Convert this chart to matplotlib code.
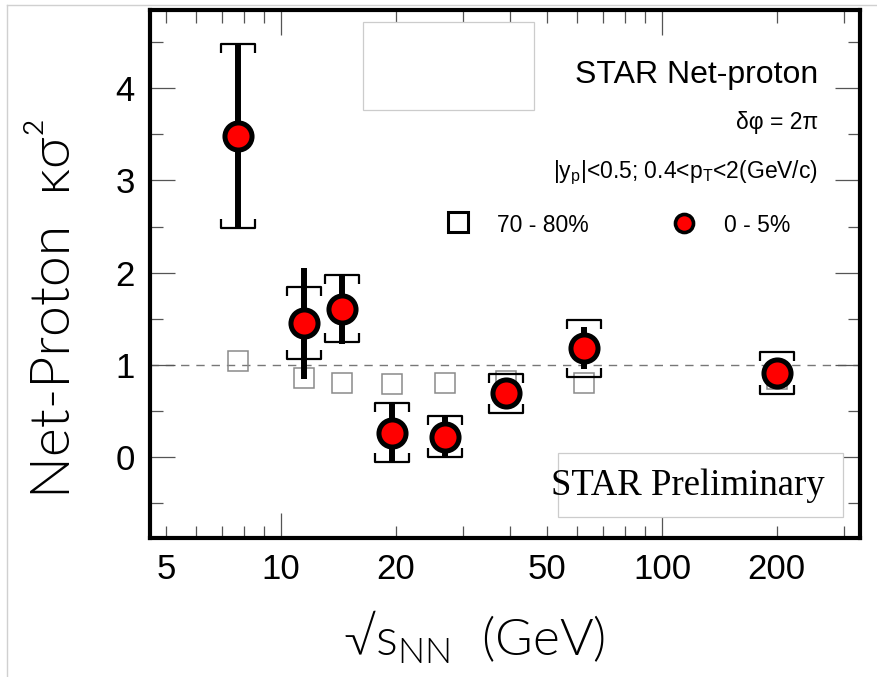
import numpy as np
import matplotlib
matplotlib.use("Agg")
import matplotlib.pyplot as plt
from matplotlib.path import Path
from matplotlib.lines import Line2D
from matplotlib.patches import Rectangle
from matplotlib.ticker import FixedLocator, FixedFormatter

energy = [7.7, 11.5, 14.5, 19.6, 27, 39, 62.4, 200]
kappa_central = [3.48, 1.45, 1.61, 0.26, 0.22, 0.69, 1.18, 0.91]
stat_central = [1.00, 0.60, 0.38, 0.32, 0.22, 0.10, 0.23, 0.10]
sys_central = [1.00, 0.39, 0.36, 0.32, 0.22, 0.21, 0.31, 0.23]
kappa_periph = [1.04, 0.86, 0.80, 0.79, 0.80, 0.82, 0.80, 0.85]

xticks_major = [10, 100]
xticks_minor = [5, 6, 7, 8, 9, 20, 30, 40, 50, 60, 70, 80, 90, 200, 300]
xlabels_minor = ['5', '', '', '', '', '20', '', '', '50', '', '', '', '', '200', '']
yticks_major = [0, 1, 2, 3, 4]
yticks_minor = [-0.5, 0.5, 1.5, 2.5, 3.5, 4.5]

W, H = 877, 677
fig = plt.figure(figsize=(W / 100, H / 100), dpi=100)


def fx(px):
    return px / W


def fy(py):
    return 1 - py / H


ax = fig.add_axes([fx(150), fy(538), fx(860) - fx(150), fy(10) - fy(538)])
ax.set_xscale('log')
ax.set_xlim(4.53, 331)
ax.set_ylim(-0.88, 4.85)

# dashed reference line at 1
ax.axhline(1, color='#777777', lw=1, dashes=(6, 5), zorder=1)

# peripheral (70-80%) open squares
ax.plot(energy, kappa_periph, linestyle='none', marker='s', ms=15,
        mfc='none', mec='#8a8a8a', mew=1.1, zorder=2)

# statistical errors
ax.errorbar(energy, kappa_central, yerr=stat_central, fmt='none',
            ecolor='black', elinewidth=4.3, capsize=0, zorder=3)

# systematic brackets
top_br = Path([(-1, -0.55), (-1, 0), (1, 0), (1, -0.55)],
              [Path.MOVETO, Path.LINETO, Path.LINETO, Path.LINETO])
bot_br = Path([(-1, 0.55), (-1, 0), (1, 0), (1, 0.55)],
              [Path.MOVETO, Path.LINETO, Path.LINETO, Path.LINETO])
kc = np.array(kappa_central)
sc = np.array(sys_central)
ax.plot(energy, kc + sc, linestyle='none', marker=top_br, ms=24,
        mfc='none', mec='black', mew=1.6, zorder=4)
ax.plot(energy, kc - sc, linestyle='none', marker=bot_br, ms=24,
        mfc='none', mec='black', mew=1.6, zorder=4)

# central (0-5%) red points
ax.plot(energy, kappa_central, linestyle='none', marker='o', ms=19.5,
        mfc='red', mec='black', mew=3.6, zorder=5)

# axes styling
for sp in ax.spines.values():
    sp.set_linewidth(3)
ax.xaxis.set_major_locator(FixedLocator(xticks_major))
ax.xaxis.set_major_formatter(FixedFormatter(['10', '100']))
ax.xaxis.set_minor_locator(FixedLocator(xticks_minor))
ax.xaxis.set_minor_formatter(FixedFormatter(xlabels_minor))
ax.yaxis.set_major_locator(FixedLocator(yticks_major))
ax.yaxis.set_minor_locator(FixedLocator(yticks_minor))
ax.tick_params(which='both', direction='in', top=True, right=True,
               color='#555555', width=0.9, labelsize=25, pad=11)
ax.tick_params(which='major', length=18)
ax.tick_params(which='minor', length=9)
for lab in (ax.get_xticklabels() + ax.get_xticklabels(minor=True)
            + ax.get_yticklabels()):
    lab.set_fontfamily('Liberation Sans')

# axis titles
title_font = ['Lato', 'DejaVu Sans']
fig.text(fx(70), fy(308), 'Net-Proton  κσ²', rotation=90,
         rotation_mode='anchor', ha='center', va='baseline', fontsize=40,
         family=title_font, fontweight=300, color='black')
fig.text(fx(474), fy(656), '√s$_\\mathregular{NN}$  (GeV)', ha='center',
         va='baseline', fontsize=37, family=title_font, fontweight=300,
         color='black')

# annotation block
sans = 'Liberation Sans'
fig.text(fx(818), fy(83), 'STAR Net-proton', ha='right', va='baseline',
         fontsize=23, family=sans)
fig.text(fx(818), fy(129), 'δφ = 2π', ha='right', va='baseline',
         fontsize=16.5, family=sans)
fig.text(fx(818), fy(178),
         '|y$_\\mathregular{p}$|<0.5; 0.4<p$_\\mathregular{T}$<2(GeV/c)',
         ha='right', va='baseline', fontsize=16.5, family=sans)

# legend
fig.add_artist(Line2D([fx(458)], [fy(222)], marker='s', ms=15, mfc='none',
                      mec='black', mew=2.2, linestyle='none'))
fig.text(fx(497), fy(232), '70 - 80%', ha='left', va='baseline',
         fontsize=16.5, family=sans)
fig.add_artist(Line2D([fx(684)], [fy(223)], marker='o', ms=13, mfc='red',
                      mec='black', mew=2.6, linestyle='none'))
fig.text(fx(724), fy(232), '0 - 5%', ha='left', va='baseline',
         fontsize=16.5, family=sans)

# blank box at top and "STAR Preliminary" box
fig.add_artist(Rectangle((fx(363), fy(110)), fx(534) - fx(363),
                         fy(22) - fy(110), transform=fig.transFigure,
                         facecolor='white', edgecolor='#cccccc', lw=0.9))
fig.add_artist(Rectangle((fx(558), fy(517)), fx(843) - fx(558),
                         fy(453) - fy(517), transform=fig.transFigure,
                         facecolor='white', edgecolor='#cccccc', lw=0.9))
fig.text(fx(688), fy(495), 'STAR Preliminary', ha='center', va='baseline',
         fontsize=26.5, family='Liberation Serif', zorder=3)

# thin grey frame lines of the slide
fig.add_artist(Line2D([fx(7), fx(7)], [0, fy(5)], color='#d0d0d0', lw=1))
fig.add_artist(Line2D([fx(7), 1], [fy(5), fy(5)], color='#d0d0d0', lw=1))

fig.savefig('out.png', dpi=100)
